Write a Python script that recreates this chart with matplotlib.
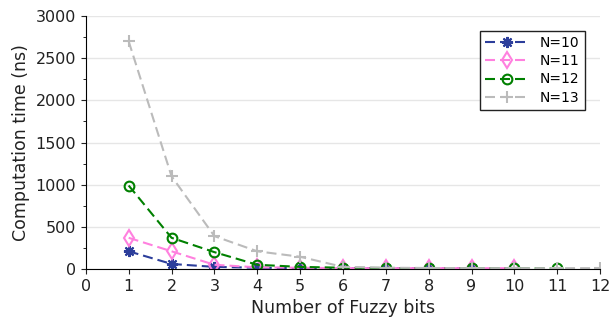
import matplotlib.pyplot as plt
from matplotlib.ticker import MultipleLocator

# data
x10 = [1, 2, 3, 4, 5, 6, 7, 8, 9]
t10 = [210, 60, 25, 15, 10, 10, 10, 10, 10]
x11 = [1, 2, 3, 4, 5, 6, 7, 8, 9, 10]
t11 = [370, 210, 50, 20, 15, 10, 10, 10, 10, 10]
x12 = [1, 2, 3, 4, 5, 6, 7, 8, 9, 10, 11]
t12 = [990, 370, 200, 50, 25, 15, 12, 10, 10, 10, 10]
x13 = [1, 2, 3, 4, 5, 6, 7, 8, 9, 10, 11, 12]
t13 = [2700, 1100, 390, 210, 145, 25, 15, 12, 10, 10, 10, 10]

fig = plt.figure(figsize=(6.13, 3.21), dpi=100)
ax = fig.add_axes([0.140, 0.162, 0.839, 0.788])

dash = (4.8, 2.4)
ax.plot(x10, t10, ls="--", dashes=dash, color="#2c3e9b", marker=(8, 2, 0),
        ms=8, mew=1.5, label="N=10")
ax.plot(x11, t11, ls="--", dashes=dash, color="#ff80df", marker="d", ms=8,
        mfc="none", mew=1.5, label="N=11")
ax.plot(x12, t12, ls="--", dashes=dash, color="green", marker="o", ms=7,
        mfc="none", mew=1.5, label="N=12")
ax.plot(x13, t13, ls="--", dashes=dash, color="#bbbbbb", marker="+", ms=9,
        mew=1.5, label="N=13")

ax.set_xlim(0, 12)
ax.set_ylim(0, 3000)
ax.xaxis.set_major_locator(MultipleLocator(1))
ax.yaxis.set_major_locator(MultipleLocator(500))
ax.yaxis.set_minor_locator(MultipleLocator(250))
ax.grid(axis="y", color="#e6e6e6", lw=1)
ax.set_axisbelow(True)
for s in ["top", "right"]:
    ax.spines[s].set_visible(False)
ax.tick_params(labelsize=11.5, colors="#222222")

ax.set_xlabel("Number of Fuzzy bits", fontsize=12.5, color="#222222")
ax.set_ylabel("Computation time (ns)", fontsize=12.5, color="#222222")

leg = ax.legend(loc="upper right", bbox_to_anchor=(0.984, 0.97),
                fontsize=10, fancybox=False, edgecolor="#222222",
                framealpha=1, handlelength=3.1, borderpad=0.4,
                labelspacing=0.3)
leg.get_frame().set_linewidth(1.0)

fig.savefig("out.png", dpi=100, facecolor="white")
plt.close()
